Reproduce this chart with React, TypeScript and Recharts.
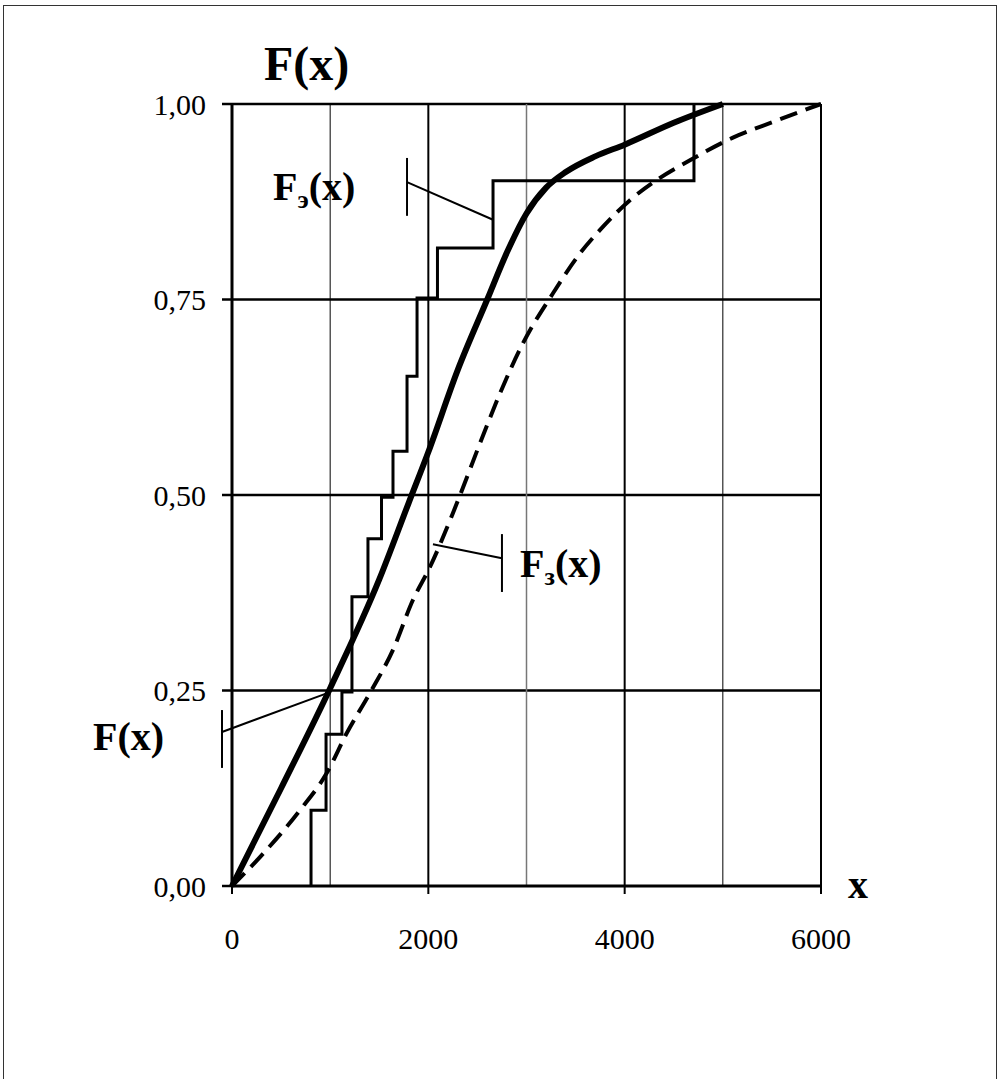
import { LineChart, Line, XAxis, YAxis, CartesianGrid, ReferenceLine } from 'recharts'

// tick values
const xTicks = [0, 2000, 4000, 6000]
const yTicks = [0, 0.25, 0.5, 0.75, 1]

// empirical distribution F_э(x): jump points and values after each jump
const stepX = [805, 805, 958, 1120, 1222, 1385, 1523, 1640, 1783, 1885, 2093, 2659, 4706]
const stepF = [0, 0.097, 0.194, 0.248, 0.37, 0.444, 0.497, 0.556, 0.652, 0.752, 0.816, 0.902, 1.0]

// theoretical F(x) (thick solid)
const theoX = [0, 500, 1000, 1500, 1800, 2000, 2300, 2600, 2800, 3000, 3200, 3400, 3700, 4000, 4500, 5000]
const theoF = [0, 0.125, 0.253, 0.392, 0.49, 0.555, 0.66, 0.75, 0.81, 0.86, 0.893, 0.913, 0.933, 0.948, 0.976, 1.0]

// F_з(x) (dashed)
const lawX = [0, 285, 693, 968, 1171, 1406, 1640, 1844, 2017, 2251, 2526, 2730, 2964, 3270, 3545, 3749, 4054, 4329, 4665, 5103, 5511, 6000]
const lawF = [0, 0.037, 0.097, 0.145, 0.196, 0.247, 0.302, 0.366, 0.408, 0.477, 0.566, 0.63, 0.694, 0.758, 0.809, 0.839, 0.877, 0.903, 0.928, 0.957, 0.977, 1.0]

const stepData = stepX.map((x, i) => ({ x, f: stepF[i] }))
const theoData = theoX.map((x, i) => ({ x, f: theoF[i] }))
const lawData = lawX.map((x, i) => ({ x, f: lawF[i] }))

const serif = '"Liberation Serif", "Times New Roman", serif'

// leader lines for the labels (data coordinates)
const leaders = [
  [{ x: 1783, y: 0.931 }, { x: 1783, y: 0.857 }],
  [{ x: 1783, y: 0.9 }, { x: 2659, y: 0.852 }],
  [{ x: 2750, y: 0.45 }, { x: 2750, y: 0.376 }],
  [{ x: 2750, y: 0.419 }, { x: 2047, y: 0.437 }],
  [{ x: -102, y: 0.225 }, { x: -102, y: 0.151 }],
  [{ x: -102, y: 0.197 }, { x: 978, y: 0.247 }],
]

export default function App() {
  return (
    <div style={{ position: 'absolute', left: 0, top: 0, width: 1000, height: 1079, overflow: 'hidden', background: '#fff', fontFamily: serif }}>
      <div style={{ position: 'absolute', left: 3, top: 5, width: 992, height: 1100, border: '1.5px solid #333' }} />
      <div style={{ position: 'absolute', left: 0, top: 0 }}>
        <LineChart width={1000} height={1079} margin={{ top: 104, right: 179, left: 0, bottom: 0 }} style={{ fontFamily: serif }}>
          <CartesianGrid vertical={false} horizontalValues={[0.25, 0.5, 0.75, 1]} stroke="#000" strokeWidth={2.5} />
          <CartesianGrid horizontal={false} verticalValues={[2000, 4000, 6000]} stroke="#000" strokeWidth={2} />
          <CartesianGrid horizontal={false} verticalValues={[1000, 5000]} stroke="#000" strokeWidth={1} />
          <CartesianGrid horizontal={false} verticalValues={[3000]} stroke="#777" strokeWidth={1.5} />
          <XAxis
            dataKey="x"
            type="number"
            domain={[0, 6000]}
            ticks={xTicks}
            allowDuplicatedCategory={false}
            height={193}
            tickSize={8}
            tickMargin={34}
            axisLine={{ stroke: '#000', strokeWidth: 3 }}
            tickLine={{ stroke: '#000', strokeWidth: 2 }}
            tick={{ fill: '#000', fontSize: 30, fontFamily: serif }}
          />
          <YAxis
            type="number"
            domain={[0, 1]}
            ticks={yTicks}
            width={232}
            tickSize={10}
            tickMargin={16}
            tickFormatter={(v: number) => v.toFixed(2).replace('.', ',')}
            axisLine={{ stroke: '#000', strokeWidth: 3 }}
            tickLine={{ stroke: '#000', strokeWidth: 2.5 }}
            tick={{ fill: '#000', fontSize: 30, fontFamily: serif }}
          />
          <Line data={lawData} dataKey="f" type="monotone" stroke="#000" strokeWidth={4} strokeDasharray="18 9" dot={false} isAnimationActive={false} />
          <Line data={stepData} dataKey="f" type="stepAfter" stroke="#000" strokeWidth={3} dot={false} isAnimationActive={false} />
          <Line data={theoData} dataKey="f" type="monotone" stroke="#000" strokeWidth={6} dot={false} isAnimationActive={false} />
          {leaders.map((seg, i) => (
            <ReferenceLine key={i} segment={seg} stroke="#000" strokeWidth={2} ifOverflow="visible" />
          ))}
        </LineChart>
      </div>
      <svg width={1000} height={1079} style={{ position: 'absolute', left: 0, top: 0, pointerEvents: 'none' }}>
        <g fontFamily={serif} fontWeight="bold" fill="#000">
          <text x={264} y={80} fontSize={48}>F(x)</text>
          <text x={273} y={200} fontSize={40}>F<tspan fontSize={26} dy={8}>э</tspan><tspan dy={-8}>(x)</tspan></text>
          <text x={520} y={577} fontSize={40}>F<tspan fontSize={26} dy={8}>з</tspan><tspan dy={-8}>(x)</tspan></text>
          <text x={93} y={750} fontSize={40}>F(x)</text>
          <text x={848} y={898} fontSize={40}>x</text>
        </g>
      </svg>
    </div>
  )
}
